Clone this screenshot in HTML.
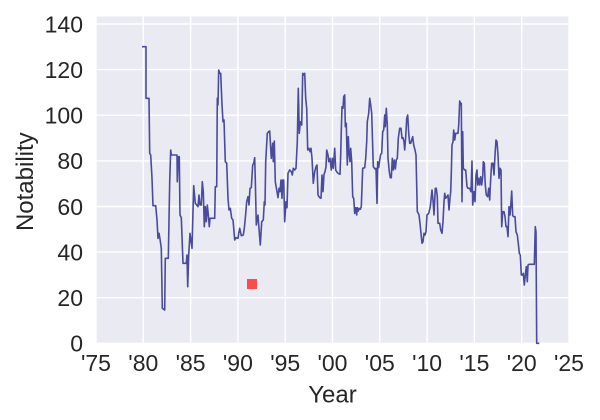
<!DOCTYPE html>
<html>
<head>
<meta charset="utf-8">
<style>
html,body{margin:0;padding:0;background:#fff;}
svg{display:block;}
text{font-family:"Liberation Sans",Arial,sans-serif;fill:#262626;}
</style>
</head>
<body>
<svg width="600" height="420" viewBox="0 0 600 420" xmlns="http://www.w3.org/2000/svg">
<defs>
<clipPath id="pc"><rect x="96" y="16.5" width="473" height="328"/></clipPath>
</defs>
<rect x="96" y="16.5" width="473" height="326.8" fill="#eaeaf2"/>
<g stroke="#ffffff" stroke-width="1.4">
<line x1="96" y1="16.5" x2="96" y2="343.3"/>
<line x1="143.3" y1="16.5" x2="143.3" y2="343.3"/>
<line x1="190.6" y1="16.5" x2="190.6" y2="343.3"/>
<line x1="237.9" y1="16.5" x2="237.9" y2="343.3"/>
<line x1="285.2" y1="16.5" x2="285.2" y2="343.3"/>
<line x1="332.5" y1="16.5" x2="332.5" y2="343.3"/>
<line x1="379.8" y1="16.5" x2="379.8" y2="343.3"/>
<line x1="427.1" y1="16.5" x2="427.1" y2="343.3"/>
<line x1="474.4" y1="16.5" x2="474.4" y2="343.3"/>
<line x1="521.7" y1="16.5" x2="521.7" y2="343.3"/>
<line x1="569" y1="16.5" x2="569" y2="343.3"/>
<line x1="96" y1="343.3" x2="569" y2="343.3"/>
<line x1="96" y1="297.7" x2="569" y2="297.7"/>
<line x1="96" y1="252.1" x2="569" y2="252.1"/>
<line x1="96" y1="206.5" x2="569" y2="206.5"/>
<line x1="96" y1="160.9" x2="569" y2="160.9"/>
<line x1="96" y1="115.2" x2="569" y2="115.2"/>
<line x1="96" y1="69.6" x2="569" y2="69.6"/>
<line x1="96" y1="24" x2="569" y2="24"/>
</g>
<rect x="247" y="279" width="10" height="10" fill="#ff4a4a"/>
<g clip-path="url(#pc)">
<polyline fill="none" stroke="#4a4a9e" stroke-width="1.6" stroke-linejoin="round" points="
142,46.7 146,46.7 146,98.3 149,98.3 149.7,153.3 150.7,155 152,178.3 153,205.7 155.7,205.7 157,220 158,238.3 159,233.3 160,239 161.3,248.3 162.3,308.3 164.7,310 165.3,258.3 168.3,258.3 169.7,181.7 170.7,150 171.3,155 177,155 177.3,181.7 178.3,156.7 179.3,156.7 180,215 181.3,217.7 183,263.3 186.3,263.3 187,255 187.7,286.7 188.7,255 190,233.3 192,248.3 193.7,185.7 195.3,203.3 198,206.7 199,195 200,205 201.3,205 202.3,181.7 203.3,191.7 204.3,226.7 205.3,206.7 206.3,221.7 207.3,205 208.3,215 209.3,226.7 210,218.3 214.7,218.3 215.3,186.7 216.7,186.7 217.3,98.3 218,105 218.7,70 219.7,73.3 220.7,73.3 222,105 223,121.7 224,120 225.3,161.7 226.7,163.3 228,198.3 229,210 230.3,208.3 231.7,218.3 233,220 234.7,240 236,237.7 238,238.3 239,231.7
239.7,228.3 241.3,235.7 243.3,235 244.3,228.3 245.3,218.3 246.7,201.7 248,196.7 249,205 250,188.3 251.3,187.7 252.7,165 253.7,163.3 254.7,157.7 255.3,180 256.3,225 258,215 258.7,225 260.3,245 261.7,221.7 263.3,220 264.3,201.7 265,205 265.7,161.7 267.3,133.3 268.7,131.7 269.7,131 270.7,148.3 271.3,158.3 272.7,143.3 273.3,161.7 274.3,141 275.3,181.7 277,191.7 278,197.7 279,188.3 280,191.7 281,180 282,198.3 282.7,180 283.7,180 284.7,221.7 286,201.7 287,207.7 288,173.3 289.7,170 291.3,171.7 292.3,175 293.3,168.3 294.7,170 296,168.3 297.3,141.7 298.3,88.3 299.3,133.3 300.3,121.7 301.7,125 302.7,73.3 303.7,75 304.7,73.3 305.7,98.3 306.7,108.3 307.7,150 309,148.3 310,151.7 311,148.3 312,158.3 313.3,183.3 314.7,171.7 316,166.7 317,165 318,195 319.7,197.7 321,198.3 322,175 323,191.7 324,174.3 325,171.7 326,166.7 326.7,150 328,155 328.7,161.7 330,158.3 331.3,170 332.3,158.3 333.3,168.3 334.7,148.3 335.7,170 336.7,171.7 338,173.3
340,174.3 340.7,155 341.3,130 342,106.7 343,108.3 343.7,96.7 344.7,95 345.3,126.7 346.3,123.3 347.3,165 348.3,136.7 349,151.7 350,161.7 350.7,148.3 351.7,161.7 352.7,196.7 353.7,198.3 354.7,213.3 355.7,207.7 356.7,215 357.3,207.7 358.3,211 359,208.3 360.3,209.3 361.3,206.7 362.7,168.3 364.7,167.7 365.7,158.3 366.7,141.7 367.3,121.7 368.7,113.3 369.7,98.3 370.7,105 371.7,113.3 373.3,166.7 375,169 376,168.3 377,203.3 377.7,161.7 378.7,167.7 379.7,160 380.7,154.3 381.7,153.3 382.7,131.7 383.7,130 384.7,115 385.3,126.7 386.3,108.3 387.3,125 388,158.3 389.3,171.7 390.3,177.7 391.3,177.7 392.3,158.3 393.3,170 394.3,160 395.3,169 396.3,160 397.3,158.3 398.3,138.3 399.7,128.3 401,128.3 402,138.3 403,137.7 404,141.7 404.7,150 405.7,136.7 406.7,118.3 407.7,115 408.7,133.3 409.7,143.3 410.7,143.3 411.7,140 412.7,136.7 413.7,145 415,150 416,155 417.3,211.7 418.3,213.3 419,215 420,223.3 421,233.3 422,243.3 423,241.7 424,233.3 425,235 426,231.7 427,215 428.7,213.3 430.3,206.7 432,190 433,200 434,215 435.3,188.3 436.3,188.3 437.3,196.7 438,223.3
439.7,223.3 440.7,230 442,233.3 443,221.7 444,201.7 444.7,193.3 445.7,198.3 447,196.7 448,195 449,210 450,198.3 450.7,191.7 451.3,173.3 452,145 453,141.7 453.7,130 454.7,140 455.7,133.3 456.7,133.3 458,133.3 458.7,125 459.7,101 460.7,104.3 461.3,103.3 462,201.7 462.7,131.7 463.3,168.3 464.7,170 465.7,170 467,186.7 468,188.3 469.7,188.3 471,191.7 472,161 472.7,205 474,191.7 475,201.7 476,175 477,170 477.7,185 478.7,178.3 479.7,185 480.7,176.7 481.7,185 482.7,176.7 483.3,161.7 484.3,163.3 485.3,185 486.3,195 487.7,196.7 488.7,188.3 489.7,200 490.7,178.3 491.7,163.3 493,163.3 494,175 495,155 496,140 497,141.7 498,155 499,178.3 500,168.3 501,170 501.7,226.7 502.7,211.7 504,211.7 505,216.7 506,226.7 507,226.7 508,236.7 509,206.7 510,215 510.7,206.7 511.7,191 512.7,215.7 513.7,216.7 515,216.7 516,231.7 517.3,235 518.3,243.3 519.3,253.3 520.3,255 521.3,275 522.3,275 523.3,273.3 524.3,285 525.3,275 526.3,266.7 527.3,281.7 528,265 529,264.3 534.3,264.3 535.3,226.7 536,231.7 536.7,343.3 539.3,343.3"/>
</g>
<g font-size="23" text-anchor="end">
<text x="83" y="351.6">0</text>
<text x="83" y="306">20</text>
<text x="83" y="260.4">40</text>
<text x="83" y="214.8">60</text>
<text x="83" y="169.2">80</text>
<text x="83" y="123.5">100</text>
<text x="83" y="77.9">120</text>
<text x="83" y="32.3">140</text>
</g>
<g font-size="23" text-anchor="middle">
<text x="96" y="371">'75</text>
<text x="143.3" y="371">'80</text>
<text x="190.6" y="371">'85</text>
<text x="237.9" y="371">'90</text>
<text x="285.2" y="371">'95</text>
<text x="332.5" y="371">'00</text>
<text x="379.8" y="371">'05</text>
<text x="427.1" y="371">'10</text>
<text x="474.4" y="371">'15</text>
<text x="521.7" y="371">'20</text>
<text x="569" y="371">'25</text>
</g>
<text x="332.5" y="402.5" font-size="24" text-anchor="middle">Year</text>
<text transform="translate(33,181.7) rotate(-90)" x="0" y="0" font-size="24" text-anchor="middle">Notability</text>
</svg>
</body>
</html>
